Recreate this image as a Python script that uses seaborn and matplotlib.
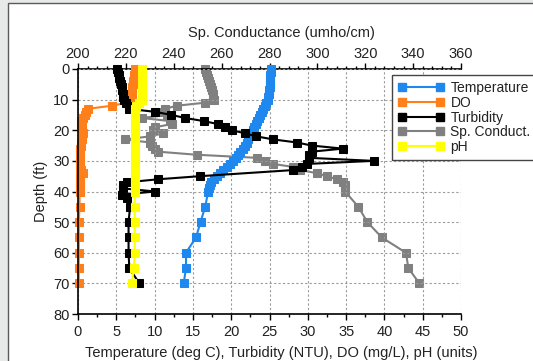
import matplotlib
matplotlib.use("Agg")
import matplotlib.pyplot as plt
from matplotlib.lines import Line2D
from matplotlib.patches import Rectangle
from matplotlib.ticker import MultipleLocator
import seaborn as sns

# depth (ft) used by temperature, DO, Sp. conductance, pH
depth = [0, 1, 2, 3, 4, 5, 6, 7, 8, 9, 10, 11, 12, 13, 14, 15, 16, 17, 18, 19,
         20, 21, 22, 23, 24, 25, 26, 27, 28, 29, 30, 31, 32, 33, 34, 35, 36, 37, 38, 39,
         40, 45, 50, 55, 60, 65, 70]
temperature = [25.2, 25.2, 25.1, 25.1, 25.0, 25.0, 25.0, 24.9, 24.9, 24.8, 24.8, 24.6, 24.4, 24.2,
               24.0, 23.8, 23.6, 23.4, 23.2, 23.0, 22.8, 22.6, 22.4, 22.2, 22.0, 21.8, 21.5, 21.2,
               20.9, 20.6, 20.3, 19.9, 19.4, 18.9, 18.5, 18.1, 17.7, 17.4, 17.2, 17.1, 17.0,
               16.6, 16.0, 15.4, 14.1, 14.1, 13.8]
do = [7.4, 7.4, 7.3, 7.3, 7.2, 7.2, 7.1, 7.0, 7.0, 6.9, 6.8, 6.4, 4.4, 1.3, 1.1, 0.9, 0.6, 0.4,
      0.4, 0.5, 0.5, 0.6, 0.5, 0.5, 0.4, 0.4, 0.3, 0.3, 0.3, 0.3, 0.3, 0.3, 0.3, 0.4, 0.6, 0.3,
      0.2, 0.2, 0.2, 0.2, 0.2, 0.2, 0.1, 0.1, 0.1, 0.1, 0.1]
sp_cond = [253.1, 253.5, 254.0, 254.4, 254.8, 255.3, 255.6, 255.9, 256.2, 256.5, 256.8, 253.1,
           241.2, 236.3, 233.5, 237.1, 226.6, 238.5, 239.1, 232.2, 231.5, 235.6, 230.1, 219.6,
           230.1, 230.8, 232.2, 233.5, 249.6, 274.7, 278.1, 281.6, 290.0, 292.8, 299.7, 304.0,
           308.1, 310.8, 311.6, 311.6, 311.6, 317.1, 320.9, 326.9, 337.0, 338.0, 342.6]
ph = [8.4, 8.4, 8.3, 8.3, 8.3, 8.3, 8.3, 8.3, 8.3, 8.3, 8.3, 8.0, 7.6, 7.4, 7.4, 7.4, 7.4, 7.4,
      7.4, 7.4, 7.4, 7.4, 7.4, 7.4, 7.4, 7.4, 7.4, 7.4, 7.4, 7.4, 7.4, 7.4, 7.4, 7.4, 7.4, 7.4,
      7.4, 7.4, 7.4, 7.4, 7.4, 7.4, 7.4, 7.4, 7.4, 7.3, 7.0]

# turbidity has its own depth list
depth_turb = [0, 1, 2, 3, 4, 5, 6, 7, 8, 9, 10, 11, 12, 13, 14, 15, 16, 17, 18, 19, 20, 21, 22,
              23, 24, 25, 26, 27, 28, 29, 30, 31, 32, 33, 35, 36, 37, 38, 39, 40, 41, 42,
              45, 50, 55, 60, 65, 70]
turbidity = [5.1, 5.2, 5.3, 5.4, 5.5, 5.6, 5.7, 5.8, 5.9, 5.9, 6.0, 6.3, 6.6, 6.6, 10.1, 12.2,
             14.0, 16.4, 18.3, 19.2, 20.1, 21.8, 23.3, 25.5, 28.6, 30.5, 34.6, 30.5, 30.1, 30.1,
             38.6, 29.9, 29.2, 28.1, 15.9, 10.5, 6.4, 5.9, 5.9, 10.1, 5.7, 6.4,
             6.8, 6.6, 6.6, 6.6, 6.7, 8.0]

labels = ["Temperature", "DO", "Turbidity", "Sp. Conduct.", "pH"]
colors = ["#1e88ee", "#ff7f1a", "#000000", "#808080", "#ffff00"]

sns.set_style("white")
plt.rcParams['font.family'] = ['Liberation Sans', 'DejaVu Sans']
plt.rcParams['font.size'] = 10
txt = "#222222"

fig = plt.figure(figsize=(5.33, 3.61), dpi=100)
fig.patch.set_facecolor("#e8eaea")
fig.patches.append(Rectangle((7.5 / 533, -0.05), 1.2, 1.05 - 3 / 361, transform=fig.transFigure,
                             facecolor="white", edgecolor="#5a5a5a", lw=1, zorder=-1))

ax = fig.add_axes([78 / 533, 1 - 314 / 361, 383 / 533, 245 / 361])
ax2 = ax.twiny()
ax.set_zorder(ax2.get_zorder() + 1)
ax.patch.set_visible(False)

kw = dict(sort=False, estimator=None, marker="s", markersize=5.5, linewidth=1.5, clip_on=False)
sns.lineplot(x=sp_cond, y=depth, ax=ax2, color=colors[3], markeredgecolor=colors[3], **kw)
sns.lineplot(x=temperature, y=depth, ax=ax, color=colors[0], markeredgecolor=colors[0], **kw)
sns.lineplot(x=do, y=depth, ax=ax, color=colors[1], markeredgecolor=colors[1], **kw)
sns.lineplot(x=turbidity, y=depth_turb, ax=ax, color=colors[2], markeredgecolor=colors[2], **kw)
sns.lineplot(x=ph, y=depth, ax=ax, color=colors[4], markeredgecolor=colors[4], **kw)

ax.set_xlim(0, 50)
ax.set_ylim(80, 0)
ax2.set_xlim(200, 360)

ax.xaxis.set_major_locator(MultipleLocator(5))
ax.xaxis.set_minor_locator(MultipleLocator(2.5))
ax.yaxis.set_major_locator(MultipleLocator(10))
ax2.xaxis.set_major_locator(MultipleLocator(20))
ax2.xaxis.set_minor_locator(MultipleLocator(4))

ax.grid(True, which="major", color="#9a9a9a", linestyle=(0, (2, 2)), linewidth=0.8)
ax.set_axisbelow(True)
ax2.grid(False)

for s in ["top", "right"]:
    ax.spines[s].set_visible(False)
for s in ["left", "bottom", "right"]:
    ax2.spines[s].set_visible(False)
for s in ["left", "bottom"]:
    ax.spines[s].set_color("black")
    ax.spines[s].set_linewidth(1.2)
ax2.spines["top"].set_color("black")
ax2.spines["top"].set_linewidth(1.2)

ax.tick_params(which="major", direction="out", length=4, width=1, color="black",
               labelsize=10.5, labelcolor=txt, pad=2, bottom=True, left=True)
ax.tick_params(axis="x", which="major", pad=4)
ax.tick_params(which="minor", direction="out", length=2.5, width=1, color="black", bottom=True)
ax2.tick_params(which="major", direction="out", length=4, width=1, color="black",
                labelsize=10.5, labelcolor=txt, pad=2, top=True)
ax2.tick_params(which="minor", direction="out", length=2.5, width=1, color="black", top=True)

ax.set_xlabel("Temperature (deg C), Turbidity (NTU), DO (mg/L), pH (units)", fontsize=10.5,
              color=txt)
ax.xaxis.set_label_coords(0.53, -0.13)
ax.set_ylabel("Depth (ft)", fontsize=10.5, color=txt, labelpad=4)
ax2.set_xlabel("Sp. Conductance (umho/cm)", fontsize=10.5, color=txt)
ax2.xaxis.set_label_coords(0.53, 1.13)

handles = [Line2D([0], [0], color=c, marker="s", markersize=5.5, linewidth=1.5,
                  markeredgecolor=c) for c in colors]
leg = ax.legend(handles, labels, loc="upper left", bbox_to_anchor=(0.82, 0.976),
                frameon=True, fancybox=False, framealpha=1, edgecolor="#444444",
                fontsize=10, numpoints=2, handlelength=3.3, handletextpad=0.45,
                labelspacing=0.05, borderpad=0.45, borderaxespad=0)
leg.get_frame().set_linewidth(1)
for t in leg.get_texts():
    t.set_color(txt)

fig.savefig("out.png", dpi=100)
